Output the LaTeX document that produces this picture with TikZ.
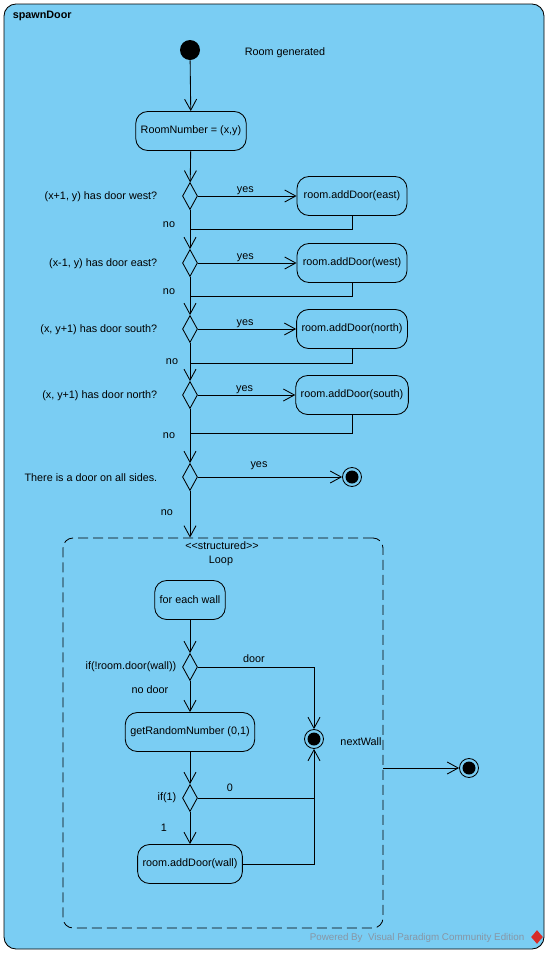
\documentclass[tikz,border=0pt]{standalone}
\usepackage{fontspec}
\setmainfont{Liberation Sans}
\usetikzlibrary{arrows.meta,shapes.geometric}
\definecolor{vpblue}{RGB}{122,205,243}
\definecolor{vpgray}{RGB}{135,150,165}
\definecolor{vpred}{RGB}{215,45,40}
\begin{document}
\begin{tikzpicture}[x=1pt,y=-1pt,line width=0.85pt,
        font=\fontsize{10.8}{13}\selectfont,
        flow/.style={-{Straight Barb[length=11pt,width=12pt]}},
        action/.style={draw,rounded corners=12pt,minimum height=39pt,inner xsep=5pt,inner ysep=2pt},
        decision/.style={draw,diamond,minimum width=15pt,minimum height=27pt,inner sep=0},
        initnode/.style={circle,fill=black,minimum size=20pt,inner sep=0},
        finalnode/.style={circle,draw,fill=vpblue,minimum size=19pt,inner sep=0,
            path picture={\fill[black] (path picture bounding box.center) circle (6.5pt);}},
        region/.style={draw,dash pattern=on 10pt off 5pt,rounded corners=10pt},
        ]
        \useasboundingbox (0,0) rectangle (549,954);
        \draw[fill=vpblue,rounded corners=12pt] (4,4) rectangle (544,949);
        \node[anchor=west,font=\fontsize{10.8}{13}\selectfont\bfseries] (title) at (9,16) {spawnDoor};

        \node[initnode] (init) at (190,50) {};
        \node (gen) at (285,53) {Room generated};
        \node[action] (rn) at (191,131) {RoomNumber = (x,y)};
        \draw[flow] (init) -- (rn);

        \foreach \i/\y/\q/\side in {1/196/{(x+1, y) has door west?}/east,
                2/263/{(x-1, y) has door east?}/west,
                3/329/{(x, y+1) has door south?}/north,
                4/395/{(x, y+1) has door north?}/south}{
            \node[decision] (d\i) at (190,\y) {};
            \node[anchor=east] (q\i) at (161,\y+1) {\q};
            \node[action,minimum width=110pt] (a\i) at (352,\y) {room.addDoor(\side)};
            \draw[flow] (d\i) -- node[above,inner sep=1pt,pos=0.48] {yes} (a\i);
        }
        \node[decision] (d5) at (190,477) {};
        \node[anchor=east] (q5) at (161,478) {There is a door on all sides.};
        \node[finalnode] (f1) at (352,477) {};
        \draw[flow] (d5) -- (f1);
        \node (yes5) at (259,466) {yes};

        \foreach \i/\y/\nx/\ny in {1/229/169/225, 2/296/169/292, 3/363/172/362, 4/433/169/436}{
            \coordinate (m\i) at (190,\y);
            \draw (a\i) |- (m\i);
            \node (no\i) at (\nx,\ny) {no};
        }
        \node (no5) at (167,513) {no};

        \draw[flow] (rn) -- (d1);
        \foreach \i [evaluate=\i as \j using int(\i+1)] in {1,...,4}{
            \draw[flow] (d\i) -- (d\j);
        }

        \node[region,minimum width=320pt,minimum height=390pt] (loop) at (223,733) {};
        \draw[flow] (d5) -- (d5 |- loop.north);
        \node (st) at (222,546) {<{}<structured>{}>};
        \node (lp) at (221,561) {Loop};

        \node[action] (w1) at (190,600) {for each wall};
        \node[decision] (d6) at (190,667) {};
        \node[anchor=east] (q6) at (180,667) {if(!room.door(wall))};
        \node[action] (g1) at (190,732) {getRandomNumber (0,1)};
        \node[decision] (d7) at (190,798) {};
        \node[anchor=east] (q7) at (180,798) {if(1)};
        \node[action] (aw) at (190,864) {room.addDoor(wall)};
        \node[finalnode] (f2) at (314,739) {};
        \coordinate (c7) at (314,798);

        \draw[flow] (w1) -- (d6);
        \draw[flow] (d6) -- (g1);
        \draw[flow] (g1) -- (d7);
        \draw[flow] (d7) -- (aw);
        \draw[flow] (d6) -| (f2);
        \draw[flow] (d7) -| (f2);
        \draw (aw) -| (c7);
        \node (door) at (254,659) {door};
        \node (nodoor) at (150,690) {no door};
        \node (zero) at (230,788) {0};
        \node (one) at (164,828) {1};
        \node (nw) at (361,742) {nextWall};

        \node[finalnode] (f3) at (469,768) {};
        \draw[flow] (loop.east |- f3) -- (f3);

        \node[anchor=east,text=vpgray,font=\fontsize{9.8}{11}\selectfont] (vp) at (528,938) {Powered By \ Visual Paradigm Community Edition};
        \node[diamond,fill=vpred,minimum width=12pt,minimum height=14pt,inner sep=0] (logo) at (537,937) {};
\end{tikzpicture}
\end{document}
